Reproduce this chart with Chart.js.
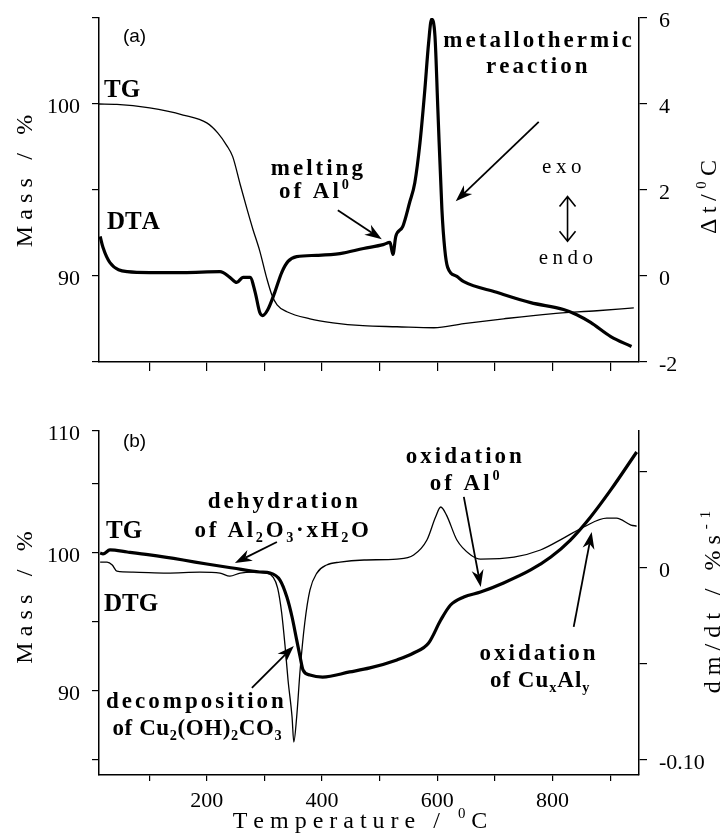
<!DOCTYPE html>
<html>
<head>
<meta charset="utf-8">
<title>TG / DTA / DTG</title>
<script src="https://cdn.jsdelivr.net/npm/chart.js@4.4.1/dist/chart.umd.min.js"></script>
<style>
  html, body { margin: 0; padding: 0; background: #fff; }
  #wrap { position: relative; width: 727px; height: 835px; }
  canvas { position: absolute; left: 0; }
  #chartA { top: 0; }
  #chartB { top: 400px; }
</style>
</head>
<body>
<div id="wrap">
  <canvas id="chartA" width="727" height="400"></canvas>
  <canvas id="chartB" width="727" height="435"></canvas>
</div>
<script>
// panel (a): TG (mass %) and DTA (delta t, degC)
const tgA_temp = [13, 44, 101, 159, 200, 219, 235, 245, 258, 270, 280, 292, 304, 313, 322, 339, 379, 419, 471, 530, 594, 646, 715, 797, 877, 941];
const tgA_mass = [100.0, 99.98, 99.77, 99.36, 98.90, 98.32, 97.57, 96.94, 95.32, 93.87, 92.72, 91.45, 89.88, 88.90, 88.32, 87.92, 87.51, 87.28, 87.11, 87.05, 86.99, 87.23, 87.51, 87.80, 87.98, 88.15];

const dtaA_temp = [15, 20, 32, 62, 101, 159, 223, 240, 252, 263, 275, 284, 292, 297, 306, 318, 330, 341, 356, 391,
  431, 472, 506, 518, 523, 528, 540, 552, 561, 570, 578, 585, 590, 596, 601, 608, 613, 618, 634, 646,
  703, 762, 819, 842, 866, 901, 937];
const dtaA_dt = [0.92, 0.66, 0.31, 0.10, 0.08, 0.08, 0.10, -0.03, -0.15, -0.03, -0.03, -0.38, -0.85, -0.92, -0.78, -0.38, 0.08, 0.34, 0.45, 0.48,
  0.52, 0.64, 0.73, 0.78, 0.50, 0.92, 1.15, 1.71, 2.17, 3.10, 4.27, 5.43, 5.97, 5.57, 3.87, 1.55, 0.62, 0.20, -0.01, -0.13,
  -0.38, -0.62, -0.78, -0.90, -1.08, -1.41, -1.64];

// panel (b): TG (mass %) and DTG (dm/dt, %/s)
const tgB_temp = [15, 20, 32, 62, 101, 159, 200, 245, 292, 310, 327, 339, 348, 356, 362, 367, 379, 401, 448, 483,
  530, 559, 585, 606, 623, 646, 675, 715, 762, 797, 831, 866, 901, 946];
const tgB_mass = [100.0, 99.93, 100.22, 100.07, 99.86, 99.49, 99.20, 98.91, 98.62, 98.55, 98.04, 96.81, 95.36, 93.70, 92.46, 91.52, 91.16, 91.01, 91.38, 91.67,
  92.25, 92.75, 93.48, 95.14, 96.23, 96.81, 97.17, 97.83, 98.77, 99.71, 100.94, 102.61, 104.57, 107.32];

const dtgB_temp = [15, 27, 36, 44, 72, 131, 188, 223, 240, 258, 280, 304, 315, 323, 330, 336, 341, 348, 351, 356,
  362, 370, 379, 391, 408, 431, 473, 530, 559, 582, 597, 606, 616, 634, 658, 675, 733, 779, 819, 854,
  894, 911, 936, 946];
const dtgB_rate = [0.0031, 0.0031, 0.0016, -0.0016, -0.0021, -0.0026, -0.0021, -0.0026, -0.0042, -0.0026, -0.0021, -0.0026, -0.0047, -0.0104, -0.0234, -0.0411, -0.0583, -0.0776, -0.0906, -0.0776,
  -0.0531, -0.0286, -0.0115, -0.0026, 0.0016, 0.0031, 0.0042, 0.0047, 0.0068, 0.0146, 0.0266, 0.0318, 0.0276, 0.0146, 0.0068, 0.0047, 0.0057, 0.0094, 0.0156, 0.0214,
  0.0260, 0.0260, 0.0224, 0.0219];

// axes
const tempRange = [13, 950];
const tempTicks = [100, 200, 300, 400, 500, 600, 700, 800, 900];
const tempLabelsA = ['', '', '', '', '', '', '', '', ''];
const tempLabelsB = ['', '200', '', '400', '', '600', '', '800', ''];

const massRangeA = [85, 105];
const massTicksA = [85, 90, 95, 100, 105];
const massLabelsA = ['', '90', '', '100', ''];
const dtRange = [-2, 6];
const dtTicks = [-2, 0, 2, 4, 6];
const dtLabels = ['-2', '0', '2', '4', '6'];

const massRangeB = [83.91, 108.84];
const massTicksB = [85, 90, 95, 100, 105, 108.84];
const massLabelsB = ['', '90', '', '100', '', '110'];
const rateRange = [-0.1078, 0.0714];
const rateTicks = [-0.10, -0.05, 0, 0.05];
const rateLabels = ['-0.10', '', '0', ''];

const SERIF = '"Liberation Serif", "Times New Roman", serif';
const SANS = '"Liberation Sans", Arial, sans-serif';
const tickFont = { family: SERIF, size: 22 };

function pairs(xs, ys) {
  return xs.map((x, i) => ({ x: x, y: ys[i] }));
}

function tempAxis(labels, tickLen, height) {
  return {
    type: 'linear', position: 'bottom', bounds: 'data',
    min: tempRange[0], max: tempRange[1],
    afterBuildTicks: s => { s.ticks = tempTicks.map(v => ({ value: v })); },
    afterFit: s => { s.height = height; s.paddingLeft = 0; s.paddingRight = 0; },
    ticks: { autoSkip: false, maxRotation: 0, padding: 7, color: '#000', font: tickFont,
             callback: (v, i) => labels[i] },
    grid: { drawOnChartArea: false, tickLength: tickLen, color: '#000', lineWidth: 1.2 },
    border: { color: '#000', width: 1.5 }
  };
}

function valueAxis(pos, range, ticks, labels, width, tickLen) {
  return {
    type: 'linear', position: pos, bounds: 'data',
    min: range[0], max: range[1],
    afterBuildTicks: s => { s.ticks = ticks.map(v => ({ value: v })); },
    // keep the plot box fixed: no extra room for half-labels at the ends
    afterFit: s => { s.width = width; s.paddingTop = 0; s.paddingBottom = 0; },
    ticks: { autoSkip: false, padding: 12, labelOffset: 3, color: '#000', font: tickFont,
             callback: (v, i) => labels[i] },
    grid: { drawOnChartArea: false, tickLength: tickLen, color: '#000', lineWidth: 1.2 },
    border: { color: '#000', width: 1.5 }
  };
}

// rich text, drawn char by char so letter spacing works everywhere
function partFont(o, p) {
  const size = (p.sub || p.sup) ? o.size * 0.62 : o.size;
  return (o.bold ? 'bold ' : '') + size + 'px ' + (o.family || SERIF);
}
function richWidth(ctx, o) {
  let w = 0, n = 0;
  o.parts.forEach(p => {
    ctx.font = partFont(o, p);
    for (const ch of p.t) { w += ctx.measureText(ch).width; n++; }
  });
  return w + (n - 1) * (o.sp || 0);
}
function drawRich(ctx, o, x, y) {
  let cx = o.align === 'left' ? x : x - richWidth(ctx, o) / 2;
  ctx.textAlign = 'left';
  ctx.textBaseline = 'alphabetic';
  o.parts.forEach(p => {
    ctx.font = partFont(o, p);
    const dy = p.sub ? o.size * 0.22 : (p.sup ? -o.size * 0.42 : 0);
    for (const ch of p.t) {
      ctx.fillText(ch, cx, y + dy);
      cx += ctx.measureText(ch).width + (o.sp || 0);
    }
  });
}

function drawArrow(ctx, x1, y1, x2, y2) {
  const head = 17, half = 6;
  const ang = Math.atan2(y2 - y1, x2 - x1);
  ctx.lineWidth = 1.8;
  ctx.beginPath();
  ctx.moveTo(x1, y1);
  ctx.lineTo(x2 - Math.cos(ang) * head * 0.7, y2 - Math.sin(ang) * head * 0.7);
  ctx.stroke();
  ctx.save();
  ctx.translate(x2, y2);
  ctx.rotate(ang);
  ctx.beginPath();
  ctx.moveTo(0, 0);
  ctx.lineTo(-head, -half);
  ctx.lineTo(-head * 0.7, 0);
  ctx.lineTo(-head, half);
  ctx.closePath();
  ctx.fill();
  ctx.restore();
}

function drawDoubleArrow(ctx, x, y1, y2) {
  ctx.lineWidth = 1.6;
  ctx.beginPath();
  ctx.moveTo(x, y1); ctx.lineTo(x, y2);
  ctx.moveTo(x - 8, y1 + 10); ctx.lineTo(x, y1); ctx.lineTo(x + 8, y1 + 10);
  ctx.moveTo(x - 8, y2 - 10); ctx.lineTo(x, y2); ctx.lineTo(x + 8, y2 - 10);
  ctx.stroke();
}

// notes: texts and arrows in data units (x = temperature, y = left axis), titles in canvas pixels
function notesPlugin(notes) {
  return {
    id: 'notes',
    afterDraw(chart) {
      const ctx = chart.ctx;
      const xs = chart.scales.x, ys = chart.scales.yL;
      ctx.save();
      ctx.fillStyle = '#000';
      ctx.strokeStyle = '#000';
      notes.texts.forEach(t => drawRich(ctx, t, xs.getPixelForValue(t.x), ys.getPixelForValue(t.y)));
      notes.arrows.forEach(a => drawArrow(ctx,
        xs.getPixelForValue(a[0]), ys.getPixelForValue(a[1]),
        xs.getPixelForValue(a[2]), ys.getPixelForValue(a[3])));
      (notes.double || []).forEach(d => drawDoubleArrow(ctx,
        xs.getPixelForValue(d[0]), ys.getPixelForValue(d[1]), ys.getPixelForValue(d[2])));
      notes.titles.forEach(t => {
        ctx.save();
        ctx.translate(t.x, t.y);
        if (t.rot) ctx.rotate(-Math.PI / 2);
        drawRich(ctx, t, 0, 0);
        ctx.restore();
      });
      ctx.restore();
    }
  };
}

const bold23 = { bold: true, size: 23, sp: 3 };

const notesA = {
  texts: [
    { parts: [{ t: '(a)' }], x: 54.6, y: 103.58, align: 'left', family: SANS, size: 19 },
    { parts: [{ t: 'TG' }], x: 21.7, y: 100.40, align: 'left', bold: true, size: 25 },
    { parts: [{ t: 'DTA' }], x: 26.9, y: 92.72, align: 'left', bold: true, size: 25 },
    Object.assign({ parts: [{ t: 'melting' }], x: 391, y: 95.90 }, bold23),
    Object.assign({ parts: [{ t: 'of Al' }, { t: '0', sup: true }], x: 386, y: 94.51 }, bold23),
    Object.assign({ parts: [{ t: 'metallothermic' }], x: 774, y: 103.29 }, bold23),
    Object.assign({ parts: [{ t: 'reaction' }], x: 772.5, y: 101.79 }, bold23),
    { parts: [{ t: 'exo' }], x: 816, y: 96.01, size: 21, sp: 4.5 },
    { parts: [{ t: 'endo' }], x: 823, y: 90.69, size: 21, sp: 4.5 }
  ],
  arrows: [
    [427.4, 93.82, 503.7, 92.14],
    [776, 98.96, 632, 94.34]
  ],
  double: [[826, 94.62, 92.02]],
  titles: [
    { parts: [{ t: 'Mass / %' }], x: 32, y: 181, rot: true, size: 24, sp: 6.2 },
    { parts: [{ t: 'Δt/' }, { t: '0', sup: true }, { t: 'C' }], x: 716, y: 197, rot: true, size: 24, sp: 5.5 }
  ]
};

const notesB = {
  texts: [
    { parts: [{ t: '(b)' }], x: 54.6, y: 107.68, align: 'left', family: SANS, size: 19 },
    { parts: [{ t: 'TG' }], x: 25.1, y: 101.09, align: 'left', bold: true, size: 25 },
    { parts: [{ t: 'DTG' }], x: 21.7, y: 95.80, align: 'left', bold: true, size: 25 },
    Object.assign({ parts: [{ t: 'dehydration' }], x: 332, y: 103.26 }, bold23),
    Object.assign({ parts: [{ t: 'of Al' }, { t: '2', sub: true }, { t: 'O' }, { t: '3', sub: true },
      { t: '·xH' }, { t: '2', sub: true }, { t: 'O' }], x: 330, y: 101.16 }, bold23, { sp: 2.7 }),
    Object.assign({ parts: [{ t: 'decomposition' }], x: 179.5, y: 88.77 }, bold23),
    Object.assign({ parts: [{ t: 'of Cu' }, { t: '2', sub: true }, { t: '(OH)' }, { t: '2', sub: true },
      { t: 'CO' }, { t: '3', sub: true }], x: 183, y: 86.81 }, bold23, { sp: 0.6 }),
    Object.assign({ parts: [{ t: 'oxidation' }], x: 646, y: 106.52 }, bold23),
    Object.assign({ parts: [{ t: 'of Al' }, { t: '0', sup: true }], x: 647.6, y: 104.57 }, bold23),
    Object.assign({ parts: [{ t: 'oxidation' }], x: 774, y: 92.25 }, bold23),
    Object.assign({ parts: [{ t: 'of Cu' }, { t: 'x', sub: true }, { t: 'Al' }, { t: 'y', sub: true }],
      x: 777.7, y: 90.29 }, bold23, { sp: 1 })
  ],
  arrows: [
    [321.7, 100.80, 248.8, 99.28],
    [278.3, 90.22, 351.1, 93.26],
    [646, 104.06, 675.4, 97.54],
    [836.7, 94.64, 867.9, 101.52]
  ],
  titles: [
    { parts: [{ t: 'Mass / %' }], x: 32, y: 197.5, rot: true, size: 24, sp: 6.2 },
    { parts: [{ t: 'dm/dt / %s' }, { t: '-1', sup: true }], x: 720, y: 202, rot: true, size: 24, sp: 6 },
    { parts: [{ t: 'Temperature / ' }, { t: '0', sup: true }, { t: 'C' }], x: 360, y: 428, size: 24, sp: 6 }
  ]
};

function lineSet(data, axis, width) {
  return {
    data: data, yAxisID: axis, borderColor: '#000', borderWidth: width,
    pointRadius: 0, fill: false, cubicInterpolationMode: 'monotone'
  };
}

const baseOptions = {
  responsive: false,
  animation: false,
  devicePixelRatio: 1,
  plugins: { legend: { display: false }, tooltip: { enabled: false } }
};

new Chart(document.getElementById('chartA'), {
  type: 'line',
  data: {
    datasets: [
      lineSet(pairs(tgA_temp, tgA_mass), 'yL', 1.3),
      lineSet(pairs(dtaA_temp, dtaA_dt), 'yR', 3.2)
    ]
  },
  options: Object.assign({}, baseOptions, {
    layout: { padding: { top: 18, left: 0, right: 0, bottom: 0 } },
    scales: {
      x: tempAxis(tempLabelsA, 9, 38),
      yL: valueAxis('left', massRangeA, massTicksA, massLabelsA, 99, 7),
      yR: valueAxis('right', dtRange, dtTicks, dtLabels, 88, 8)
    }
  }),
  plugins: [notesPlugin(notesA)]
});

new Chart(document.getElementById('chartB'), {
  type: 'line',
  data: {
    datasets: [
      lineSet(pairs(tgB_temp, tgB_mass), 'yL', 3.2),
      lineSet(pairs(dtgB_temp, dtgB_rate), 'yR', 1.3)
    ]
  },
  options: Object.assign({}, baseOptions, {
    layout: { padding: { top: 31, left: 0, right: 0, bottom: 0 } },
    scales: {
      x: tempAxis(tempLabelsB, 6, 60),
      yL: valueAxis('left', massRangeB, massTicksB, massLabelsB, 99, 7),
      yR: valueAxis('right', rateRange, rateTicks, rateLabels, 88, 8)
    }
  }),
  plugins: [notesPlugin(notesB)]
});
</script>
</body>
</html>
